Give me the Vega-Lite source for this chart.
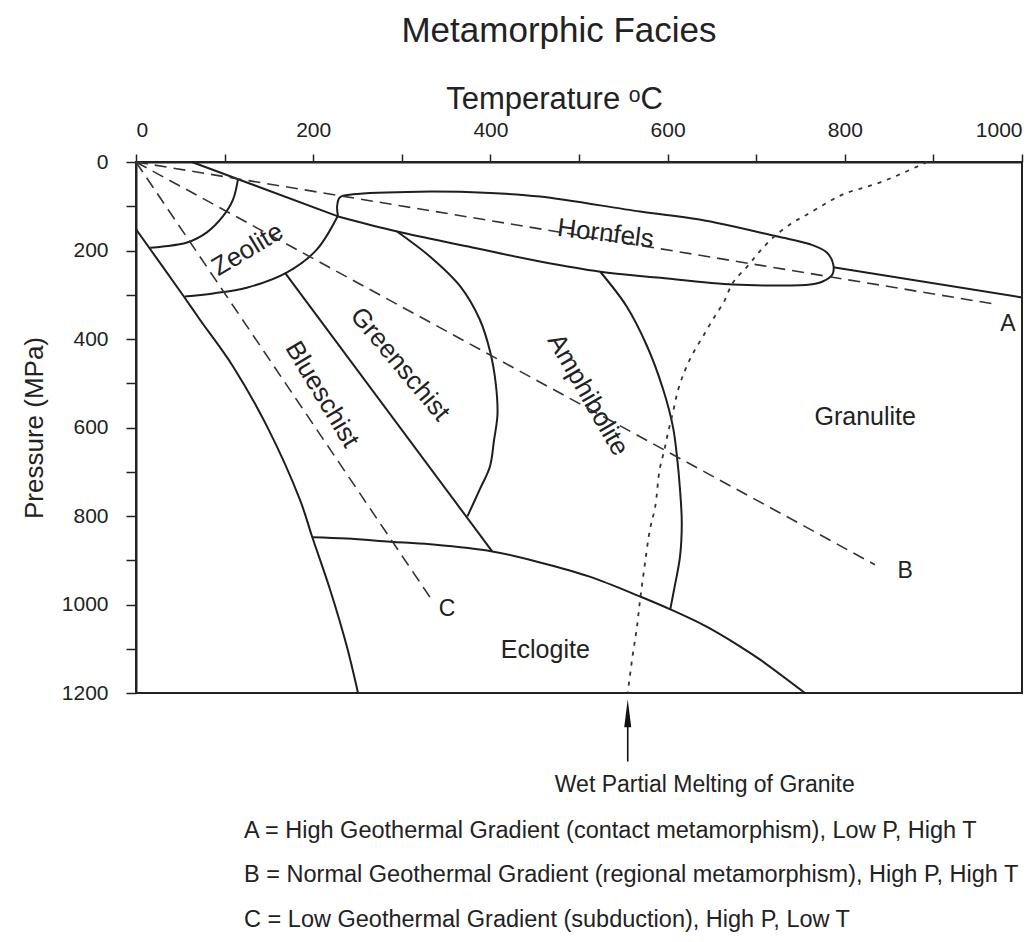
{
  "$schema": "https://vega.github.io/schema/vega-lite/v6.json",
  "width": 886,
  "height": 531,
  "autosize": {"type": "none"},
  "padding": {"left": 136, "top": 162, "right": 14, "bottom": 249},
  "background": "white",
  "title": {"text": "Metamorphic Facies", "fontSize": 35, "fontWeight": "normal", "font": "Liberation Sans", "color": "#222", "anchor": "middle", "dx": -20, "offset": 34},
  "config": {
    "font": "Liberation Sans",
    "view": {"stroke": "#222", "strokeWidth": 2},
    "axis": {"domainColor": "#222", "domainWidth": 2, "tickColor": "#222", "tickWidth": 1.5, "labelColor": "#222", "titleColor": "#222", "labelFont": "Liberation Sans", "titleFont": "Liberation Sans", "titleFontWeight": "normal", "grid": false}
  },
  "datasets": {
    "solid": [
      {"id": "top", "o": 1, "T": 63, "P": 0},
      {"id": "top", "o": 2, "T": 228, "P": 123},
      {"id": "hornfels", "o": 1, "T": 228, "P": 123},
      {"id": "hornfels", "o": 2, "T": 227, "P": 100},
      {"id": "hornfels", "o": 3, "T": 230, "P": 80},
      {"id": "hornfels", "o": 4, "T": 245, "P": 73},
      {"id": "hornfels", "o": 5, "T": 320, "P": 67},
      {"id": "hornfels", "o": 6, "T": 400, "P": 70},
      {"id": "hornfels", "o": 7, "T": 456, "P": 78},
      {"id": "hornfels", "o": 8, "T": 569, "P": 112},
      {"id": "hornfels", "o": 9, "T": 636, "P": 130},
      {"id": "hornfels", "o": 10, "T": 723, "P": 168},
      {"id": "hornfels", "o": 11, "T": 761, "P": 186},
      {"id": "hornfels", "o": 12, "T": 780, "P": 205},
      {"id": "hornfels", "o": 13, "T": 787, "P": 232},
      {"id": "hornfels", "o": 14, "T": 786, "P": 254},
      {"id": "hornfels", "o": 15, "T": 775, "P": 270},
      {"id": "hornfels", "o": 16, "T": 761, "P": 277},
      {"id": "hornfels", "o": 17, "T": 712, "P": 279},
      {"id": "hornfels", "o": 18, "T": 674, "P": 277},
      {"id": "hornfels", "o": 19, "T": 588, "P": 261},
      {"id": "hornfels", "o": 20, "T": 524, "P": 248},
      {"id": "hornfels", "o": 21, "T": 456, "P": 225},
      {"id": "hornfels", "o": 22, "T": 375, "P": 191},
      {"id": "hornfels", "o": 23, "T": 295, "P": 157},
      {"id": "hornfels", "o": 24, "T": 228, "P": 123},
      {"id": "right", "o": 1, "T": 787, "P": 238},
      {"id": "right", "o": 2, "T": 1000, "P": 306},
      {"id": "zeo_in", "o": 1, "T": 115, "P": 40},
      {"id": "zeo_in", "o": 2, "T": 109.5, "P": 85},
      {"id": "zeo_in", "o": 3, "T": 98, "P": 123},
      {"id": "zeo_in", "o": 4, "T": 80, "P": 159},
      {"id": "zeo_in", "o": 5, "T": 57.6, "P": 182},
      {"id": "zeo_in", "o": 6, "T": 30.5, "P": 191},
      {"id": "zeo_in", "o": 7, "T": 16, "P": 194},
      {"id": "zeo_out", "o": 1, "T": 228, "P": 121},
      {"id": "zeo_out", "o": 2, "T": 204, "P": 198},
      {"id": "zeo_out", "o": 3, "T": 170, "P": 250},
      {"id": "zeo_out", "o": 4, "T": 125, "P": 284},
      {"id": "zeo_out", "o": 5, "T": 87, "P": 297},
      {"id": "zeo_out", "o": 6, "T": 55, "P": 304},
      {"id": "left", "o": 1, "T": 0, "P": 152},
      {"id": "left", "o": 2, "T": 54, "P": 304},
      {"id": "left", "o": 3, "T": 72, "P": 356},
      {"id": "left", "o": 4, "T": 109.5, "P": 462},
      {"id": "left", "o": 5, "T": 148, "P": 598},
      {"id": "left", "o": 6, "T": 185, "P": 763},
      {"id": "left", "o": 7, "T": 199, "P": 848},
      {"id": "left", "o": 8, "T": 219, "P": 966},
      {"id": "left", "o": 9, "T": 238, "P": 1095},
      {"id": "left", "o": 10, "T": 250.6, "P": 1200},
      {"id": "eclogite", "o": 1, "T": 199, "P": 848},
      {"id": "eclogite", "o": 2, "T": 238, "P": 851},
      {"id": "eclogite", "o": 3, "T": 287, "P": 858},
      {"id": "eclogite", "o": 4, "T": 332, "P": 864},
      {"id": "eclogite", "o": 5, "T": 402, "P": 880},
      {"id": "eclogite", "o": 6, "T": 456, "P": 905},
      {"id": "eclogite", "o": 7, "T": 512, "P": 937},
      {"id": "eclogite", "o": 8, "T": 569, "P": 982},
      {"id": "eclogite", "o": 9, "T": 603, "P": 1011},
      {"id": "eclogite", "o": 10, "T": 644, "P": 1050},
      {"id": "eclogite", "o": 11, "T": 682, "P": 1095},
      {"id": "eclogite", "o": 12, "T": 704, "P": 1124},
      {"id": "eclogite", "o": 13, "T": 755, "P": 1200},
      {"id": "gb", "o": 1, "T": 168, "P": 250},
      {"id": "gb", "o": 2, "T": 402, "P": 880},
      {"id": "garc", "o": 1, "T": 294.6, "P": 157},
      {"id": "garc", "o": 2, "T": 332, "P": 214},
      {"id": "garc", "o": 3, "T": 366, "P": 281},
      {"id": "garc", "o": 4, "T": 388, "P": 356},
      {"id": "garc", "o": 5, "T": 400, "P": 431},
      {"id": "garc", "o": 6, "T": 406, "P": 500},
      {"id": "garc", "o": 7, "T": 408, "P": 570},
      {"id": "garc", "o": 8, "T": 404, "P": 630},
      {"id": "garc", "o": 9, "T": 399.5, "P": 688},
      {"id": "garc", "o": 10, "T": 388, "P": 740},
      {"id": "garc", "o": 11, "T": 374, "P": 801},
      {"id": "aarc", "o": 1, "T": 524, "P": 248},
      {"id": "aarc", "o": 2, "T": 554, "P": 327},
      {"id": "aarc", "o": 3, "T": 577, "P": 417},
      {"id": "aarc", "o": 4, "T": 595, "P": 514},
      {"id": "aarc", "o": 5, "T": 606, "P": 598},
      {"id": "aarc", "o": 6, "T": 610.6, "P": 666},
      {"id": "aarc", "o": 7, "T": 614, "P": 740},
      {"id": "aarc", "o": 8, "T": 616, "P": 815},
      {"id": "aarc", "o": 9, "T": 614, "P": 892},
      {"id": "aarc", "o": 10, "T": 608, "P": 959},
      {"id": "aarc", "o": 11, "T": 603, "P": 1011}
    ],
    "dashed": [
      {"id": "A", "o": 1, "T": 0, "P": 0},
      {"id": "A", "o": 2, "T": 972, "P": 322},
      {"id": "B", "o": 1, "T": 0, "P": 0},
      {"id": "B", "o": 2, "T": 834, "P": 910},
      {"id": "C", "o": 1, "T": 0, "P": 0},
      {"id": "C", "o": 2, "T": 335, "P": 993}
    ],
    "dotted": [
      {"o": 1, "T": 893, "P": 0},
      {"o": 2, "T": 862, "P": 28},
      {"o": 3, "T": 840, "P": 46},
      {"o": 4, "T": 818, "P": 60},
      {"o": 5, "T": 798, "P": 73},
      {"o": 6, "T": 780, "P": 92},
      {"o": 7, "T": 757, "P": 119},
      {"o": 8, "T": 738, "P": 141},
      {"o": 9, "T": 719, "P": 171},
      {"o": 10, "T": 704, "P": 202},
      {"o": 11, "T": 690, "P": 236},
      {"o": 12, "T": 674, "P": 272},
      {"o": 13, "T": 663, "P": 318},
      {"o": 14, "T": 651, "P": 356},
      {"o": 15, "T": 640, "P": 394},
      {"o": 16, "T": 629, "P": 431},
      {"o": 17, "T": 620, "P": 469},
      {"o": 18, "T": 612, "P": 514},
      {"o": 19, "T": 606, "P": 566},
      {"o": 20, "T": 600, "P": 616},
      {"o": 21, "T": 596, "P": 654},
      {"o": 22, "T": 591, "P": 695},
      {"o": 23, "T": 586, "P": 779},
      {"o": 24, "T": 580, "P": 831},
      {"o": 25, "T": 574, "P": 914},
      {"o": 26, "T": 569, "P": 989},
      {"o": 27, "T": 565, "P": 1057},
      {"o": 28, "T": 561, "P": 1109},
      {"o": 29, "T": 555, "P": 1199}
    ],
    "arrow": [
      {"o": 1, "T": 555, "P": 1250},
      {"o": 2, "T": 555, "P": 1355}
    ],
    "arrowhead": [
      {"T": 555, "P": 1246}
    ],
    "labels": [
      {"label": "Zeolite", "T": 126, "P": 198},
      {"label": "Blueschist", "T": 210, "P": 525},
      {"label": "Greenschist", "T": 298, "P": 457},
      {"label": "Amphibolite", "T": 510, "P": 526},
      {"label": "Hornfels", "T": 530, "P": 162},
      {"label": "Granulite", "T": 823, "P": 577},
      {"label": "Eclogite", "T": 462, "P": 1102},
      {"label": "A", "T": 984, "P": 367},
      {"label": "B", "T": 868, "P": 925},
      {"label": "C", "T": 351, "P": 1011},
      {"label": "Wet Partial Melting of Granite", "T": 642, "P": 1409}
    ],
    "legend": [
      {"label": "A = High Geothermal Gradient (contact metamorphism), Low P, High T", "T": 122, "P": 1511},
      {"label": "B = Normal Geothermal Gradient (regional metamorphism), High P, High T", "T": 122, "P": 1612},
      {"label": "C = Low Geothermal Gradient (subduction), High P, Low T", "T": 122, "P": 1712}
    ]
  },
  "encoding": {
    "x": {"field": "T", "type": "quantitative", "scale": {"domain": [0, 1000], "nice": false, "zero": false},
      "axis": {"orient": "top", "values": [0, 100, 200, 300, 400, 500, 600, 700, 800, 900, 1000], "format": "d", "labelExpr": "datum.value % 200 === 0 ? datum.label : ''", "tickSize": 8, "labelPadding": 14, "labelFontSize": 21, "labelFlush": true, "title": "Temperature ᵒC", "titleFontSize": 31, "titlePadding": 4, "titleX": 418}},
    "y": {"field": "P", "type": "quantitative", "scale": {"domain": [0, 1200], "nice": false, "zero": false, "reverse": true},
      "axis": {"values": [0, 100, 200, 300, 400, 500, 600, 700, 800, 900, 1000, 1100, 1200], "format": "d", "labelExpr": "datum.value % 200 === 0 ? datum.label : ''", "tickSize": 10, "labelPadding": 18, "labelFontSize": 21, "title": "Pressure (MPa)", "titleFontSize": 26, "titlePadding": 14}}
  },
  "layer": [
    {"data": {"name": "solid"}, "mark": {"type": "line", "interpolate": "catmull-rom", "color": "#1e1e1e", "strokeWidth": 2}, "encoding": {"detail": {"field": "id"}, "order": {"field": "o", "type": "quantitative"}}},
    {"data": {"name": "dashed"}, "mark": {"type": "line", "color": "#333", "strokeWidth": 1.6, "strokeDash": [12, 7]}, "encoding": {"detail": {"field": "id"}, "order": {"field": "o", "type": "quantitative"}}},
    {"data": {"name": "dotted"}, "mark": {"type": "line", "interpolate": "catmull-rom", "color": "#333", "strokeWidth": 1.8, "strokeDash": [4, 6]}, "encoding": {"order": {"field": "o", "type": "quantitative"}}},
    {"data": {"name": "arrow"}, "mark": {"type": "line", "color": "#111", "strokeWidth": 1.6}, "encoding": {"order": {"field": "o", "type": "quantitative"}}},
    {"data": {"name": "arrowhead"}, "mark": {"type": "point", "shape": "M0,-1L0.25,1L-0.25,1Z", "size": 784, "filled": true, "color": "#111", "opacity": 1}},
    {"data": {"name": "labels"}, "transform": [{"filter": "datum.label == 'Zeolite'"}], "mark": {"type": "text", "angle": -31, "fontSize": 26, "color": "#222"}, "encoding": {"text": {"field": "label"}}},
    {"data": {"name": "labels"}, "transform": [{"filter": "datum.label == 'Blueschist'"}], "mark": {"type": "text", "angle": 59, "fontSize": 26, "color": "#222"}, "encoding": {"text": {"field": "label"}}},
    {"data": {"name": "labels"}, "transform": [{"filter": "datum.label == 'Greenschist'"}], "mark": {"type": "text", "angle": 50, "fontSize": 26, "color": "#222"}, "encoding": {"text": {"field": "label"}}},
    {"data": {"name": "labels"}, "transform": [{"filter": "datum.label == 'Amphibolite'"}], "mark": {"type": "text", "angle": 60, "fontSize": 26, "color": "#222"}, "encoding": {"text": {"field": "label"}}},
    {"data": {"name": "labels"}, "transform": [{"filter": "datum.label == 'Hornfels'"}], "mark": {"type": "text", "angle": 7, "fontSize": 26, "color": "#222"}, "encoding": {"text": {"field": "label"}}},
    {"data": {"name": "labels"}, "transform": [{"filter": "datum.label == 'Granulite' || datum.label == 'Eclogite'"}], "mark": {"type": "text", "fontSize": 25, "color": "#222"}, "encoding": {"text": {"field": "label"}}},
    {"data": {"name": "labels"}, "transform": [{"filter": "datum.label == 'A' || datum.label == 'B' || datum.label == 'C'"}], "mark": {"type": "text", "fontSize": 23, "color": "#222"}, "encoding": {"text": {"field": "label"}}},
    {"data": {"name": "labels"}, "transform": [{"filter": "datum.label == 'Wet Partial Melting of Granite'"}], "mark": {"type": "text", "fontSize": 23, "color": "#222"}, "encoding": {"text": {"field": "label"}}},
    {"data": {"name": "legend"}, "mark": {"type": "text", "fontSize": 23.5, "align": "left", "color": "#222"}, "encoding": {"text": {"field": "label"}}}
  ]
}
